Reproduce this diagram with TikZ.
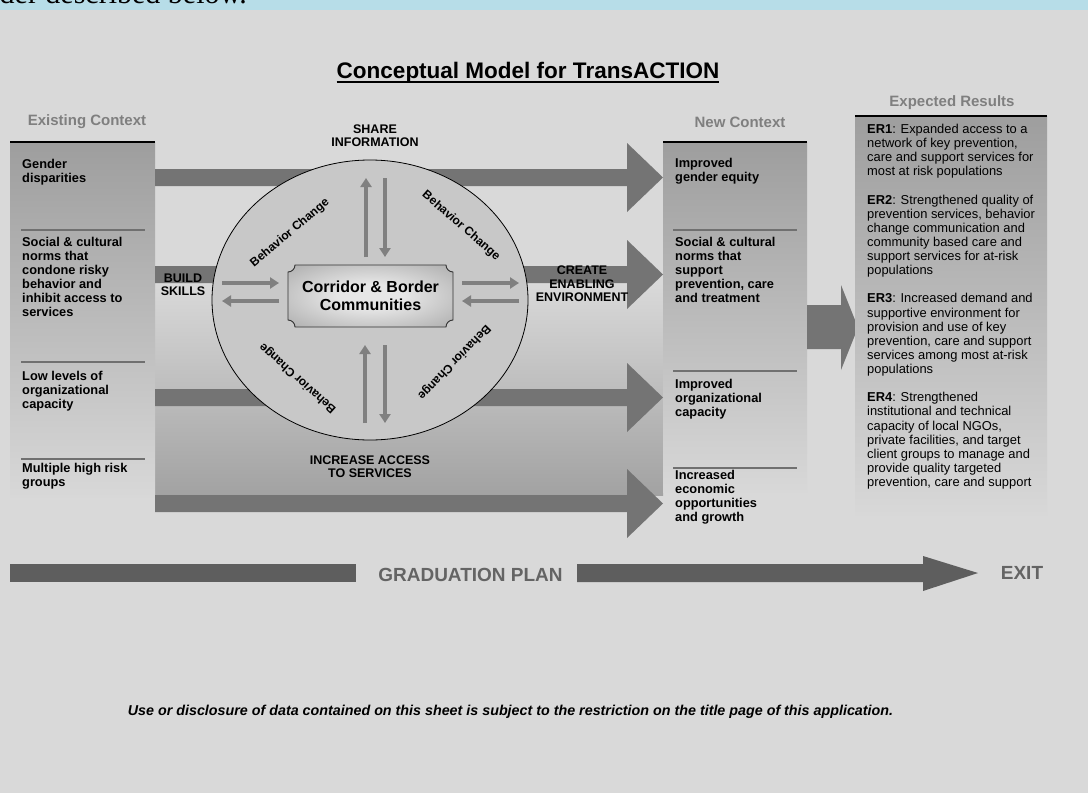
\documentclass[tikz,border=0pt]{standalone}
\usepackage{fontspec}
\setmainfont{Liberation Sans}
\newfontfamily\stripserif{Liberation Serif}
\usetikzlibrary{arrows.meta,shapes.geometric}
\definecolor{bg}{HTML}{D9D9D9}
\definecolor{strip}{HTML}{B7DDE8}
\definecolor{hdrgray}{HTML}{7F7F7F}
\definecolor{band}{HTML}{747474}
\definecolor{boxtop}{HTML}{9E9E9E}
\definecolor{boxbot}{HTML}{D8D8D8}
\definecolor{sepcol}{HTML}{707070}
\definecolor{ellfill}{HTML}{C8C8C8}
\definecolor{arrgray}{HTML}{808080}
\definecolor{gradc}{HTML}{5E5E5E}
\definecolor{gradtxt}{HTML}{646464}
\definecolor{panelbot}{HTML}{A2A2A2}
\definecolor{plaquein}{HTML}{E6E6E6}
\definecolor{plaqueout}{HTML}{8E8E8E}
\pgfdeclareradialshading{plaque}{\pgfpoint{0bp}{0bp}}{color(0bp)=(plaquein); color(10bp)=(plaquein); color(50bp)=(plaqueout); color(72bp)=(plaqueout)}
\tikzset{
  hdr/.style={font=\bfseries\fontsize{15}{18}\selectfont, text=hdrgray, inner sep=0},
  colbox/.style={anchor=north west, top color=boxtop, bottom color=boxbot, inner sep=0, draw=none},
  topline/.style={line width=2pt, black},
  sepline/.style={line width=2pt, sepcol},
  coltext/.style={anchor=north west, inner sep=0, align=left, font=\bfseries\fontsize{12.8}{14}\selectfont},
  ertext/.style={anchor=north west, inner sep=0, align=left, font=\fontsize{12.9}{14.12}\selectfont},
  lbl/.style={inner sep=0, align=center, font=\bfseries\fontsize{12.5}{13.5}\selectfont},
  bc/.style={inner sep=0, font=\bfseries\fontsize{12}{14}\selectfont},
  innerarr/.style={draw=arrgray, line width=4pt, -{Triangle[width=11pt,length=9pt]}},
  gradlbl/.style={inner sep=0, text=gradtxt, font=\bfseries\fontsize{19}{21}\selectfont},
}
\newcommand\bandarrow[1]{%
  \fill[band] (155,#1-8.5) -- (627,#1-8.5) -- (627,#1-34.5) -- (663,#1) -- (627,#1+34.5) -- (627,#1+8.5) -- (155,#1+8.5) -- cycle;}
\begin{document}
\begin{tikzpicture}[x=1pt,y=-1pt]
\useasboundingbox (0,0) rectangle (1088,793);
\fill[bg] (0,0) rectangle (1088,793);
\fill[strip] (0,0) rectangle (1088,9.5);
\begin{scope}
  \clip (0,0) rectangle (1088,9.5);
  \node[anchor=base east, inner sep=0, font=\stripserif\fontsize{30}{30}\selectfont] (striptext) at (247,3) {der described below.};
\end{scope}

% title
\node[inner sep=0, font=\bfseries\fontsize{22.5}{25}\selectfont] (title) at (528,73) {Conceptual Model for TransACTION};
\draw[line width=1.8pt] ([yshift=-3.2pt]title.base west) -- ([yshift=-3.2pt]title.base east);

% headers
\node[hdr] (hexist) at (87,122) {Existing Context};
\node[hdr] (hnew) at (740,122) {New Context};
\node[hdr] (hres) at (952,103) {Expected Results};

% gradient panel between the columns
\shade[top color=bg, bottom color=panelbot] (155,283) rectangle (663,495);

% column boxes
\node[colbox, minimum width=145pt, minimum height=355pt] (exist) at (10,142) {};
\node[colbox, minimum width=144pt, minimum height=350pt] (newc) at (663,142) {};
\draw[topline] (exist.north west) -- (exist.north east);
\draw[topline] (newc.north west) -- (newc.north east);
\draw[sepline] (21,230) -- (145,230);
\draw[sepline] (21,362) -- (145,362);
\draw[sepline] (21,459) -- (145,459);
\draw[sepline] (673,230) -- (797,230);
\draw[sepline] (673,371) -- (797,371);
\draw[sepline] (673,468) -- (797,468);

% block arrows
\bandarrow{177.5}
\bandarrow{274.5}
\bandarrow{397.5}
\bandarrow{503.5}

% arrow to expected results
\fill[band] (807,305) -- (841,305) -- (841,285) -- (858,327.5) -- (841,370) -- (841,349) -- (807,349) -- cycle;

% expected results box
\node[colbox, minimum width=192pt, minimum height=399pt] (res) at (855,116) {};
\draw[topline] (res.north west) -- (res.north east);

% ellipse
\node[ellipse, draw=black, line width=0.8pt, fill=ellfill, minimum width=316pt, minimum height=280pt, inner sep=0] (ell) at (370,300) {};

% inner arrows
\draw[innerarr] (366,257) -- (366,178);
\draw[innerarr] (385,178) -- (385,257);
\draw[innerarr] (365,423) -- (365,345);
\draw[innerarr] (385,345) -- (385,423);
\draw[innerarr] (222,283) -- (279,283);
\draw[innerarr] (279,301) -- (222,301);
\draw[innerarr] (462,283) -- (519,283);
\draw[innerarr] (519,301) -- (462,301);

% center plaque
\shade[shading=plaque, draw=black!80, line width=0.9pt]
  (295,265) -- (446,265)
  .. controls (446,268.9) and (449.1,272) .. (453,272)
  -- (453,320)
  .. controls (449.1,320) and (446,323.1) .. (446,327)
  -- (295,327)
  .. controls (295,323.1) and (291.9,320) .. (288,320)
  -- (288,272)
  .. controls (291.9,272) and (295,268.9) .. (295,265) -- cycle;
\node[inner sep=0, align=center, font=\bfseries\fontsize{16}{18}\selectfont] (core) at (370.5,296) {Corridor \& Border\\Communities};

% behavior change labels
\node[bc, rotate=40] (bcul) at (290,233) {Behavior Change};
\node[bc, rotate=-41] (bcur) at (461,226) {Behavior Change};
\node[bc, rotate=138] (bcll) at (298,378) {Behavior Change};
\node[bc, rotate=226] (bclr) at (454,362) {Behavior Change};

% action labels
\node[lbl] (share) at (375,135.5) {SHARE\\INFORMATION};
\node[lbl] (build) at (183,285) {BUILD\\SKILLS};
\node[lbl] (create) at (582,284) {CREATE\\ENABLING\\ENVIRONMENT};
\node[lbl] (access) at (370,466.5) {INCREASE ACCESS\\TO SERVICES};

% existing context texts
\node[coltext] (e1) at (22,159) {Gender\\disparities};
\node[coltext] (e2) at (22,237) {Social \& cultural\\norms that\\condone risky\\behavior and\\inhibit access to\\services};
\node[coltext] (e3) at (22,371) {Low levels of\\organizational\\capacity};
\node[coltext] (e4) at (22,463) {Multiple high risk\\groups};

% new context texts
\node[coltext] (n1) at (675,158) {Improved\\gender equity};
\node[coltext] (n2) at (675,237) {Social \& cultural\\norms that\\support\\prevention, care\\and treatment};
\node[coltext] (n3) at (675,379) {Improved\\organizational\\capacity};
\node[coltext] (n4) at (675,470) {Increased\\economic\\opportunities\\and growth};

% expected results text
\node[ertext] (ers) at (867,124) {\textbf{ER1}: Expanded access to a\\network of key prevention,\\care and support services for\\most at risk populations\\[14.12pt]
\textbf{ER2}: Strengthened quality of\\prevention services, behavior\\change communication and\\community based care and\\support services for at-risk\\populations\\[14.12pt]
\textbf{ER3}: Increased demand and\\supportive environment for\\provision and use of key\\prevention, care and support\\services among most at-risk\\populations\\[14.12pt]
\textbf{ER4}: Strengthened\\institutional and technical\\capacity of local NGOs,\\private facilities, and target\\client groups to manage and\\provide quality targeted\\prevention, care and support};

% graduation plan
\fill[gradc] (10,564) rectangle (356,582);
\fill[gradc] (577,564) -- (923,564) -- (923,556) -- (978,573) -- (923,591) -- (923,582) -- (577,582) -- cycle;
\node[gradlbl] (gplan) at (470.5,575) {GRADUATION PLAN};
\node[gradlbl] (gexit) at (1022,573) {EXIT};

% footer
\node[inner sep=0, font=\bfseries\itshape\fontsize{14.3}{16}\selectfont] (foot) at (510.5,712) {Use or disclosure of data contained on this sheet is subject to the restriction on the title page of this application.};
\end{tikzpicture}
\end{document}
